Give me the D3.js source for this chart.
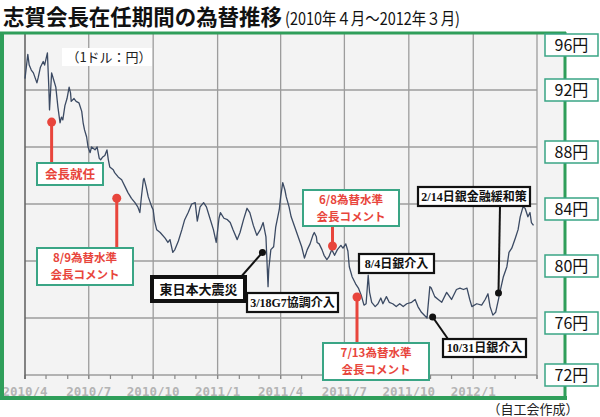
<!DOCTYPE html>
<html><head><meta charset="utf-8">
<script src="https://cdn.jsdelivr.net/npm/d3@7"></script>
<style>body{margin:0;background:#fff}svg{display:block}</style>
</head><body>
<svg id="c" width="600" height="417"></svg>
<script>
// ---- data ----
const dates = ["2010-04-01","2010-04-05","2010-04-07","2010-04-10","2010-04-13","2010-04-18","2010-04-20","2010-04-23","2010-04-27","2010-04-29",
"2010-05-03","2010-05-05","2010-05-06","2010-05-09","2010-05-12","2010-05-15","2010-05-18","2010-05-21","2010-05-23","2010-05-25","2010-05-28","2010-05-31",
"2010-06-03","2010-06-05","2010-06-06","2010-06-10","2010-06-13","2010-06-17","2010-06-21","2010-06-23","2010-06-25","2010-06-28","2010-06-30",
"2010-07-03","2010-07-05","2010-07-10","2010-07-13","2010-07-16","2010-07-18","2010-07-21","2010-07-24","2010-07-27","2010-07-29","2010-07-31",
"2010-08-05","2010-08-07","2010-08-12","2010-08-17","2010-08-22","2010-08-26","2010-08-31",
"2010-09-05","2010-09-09","2010-09-12","2010-09-14","2010-09-17","2010-09-18","2010-09-21","2010-09-24","2010-09-29",
"2010-10-01","2010-10-03","2010-10-06","2010-10-11","2010-10-18","2010-10-22","2010-10-25","2010-10-29",
"2010-11-01","2010-11-06","2010-11-11","2010-11-15","2010-11-20","2010-11-25","2010-11-30",
"2010-12-03","2010-12-07","2010-12-12","2010-12-16","2010-12-21","2010-12-26","2010-12-30",
"2011-01-03","2011-01-05","2011-01-10","2011-01-15","2011-01-19","2011-01-23","2011-01-29",
"2011-02-02","2011-02-07","2011-02-12","2011-02-16","2011-02-21","2011-02-26",
"2011-03-03","2011-03-07","2011-03-11","2011-03-14","2011-03-15","2011-03-18","2011-03-22","2011-03-25","2011-03-30",
"2011-04-01","2011-04-04","2011-04-07","2011-04-09","2011-04-13","2011-04-16","2011-04-21","2011-04-26",
"2011-05-01","2011-05-05","2011-05-09","2011-05-13","2011-05-17","2011-05-19","2011-05-22","2011-05-23","2011-05-26","2011-05-30",
"2011-06-02","2011-06-06","2011-06-09","2011-06-13","2011-06-17","2011-06-21","2011-06-26","2011-06-29",
"2011-07-03","2011-07-06","2011-07-08","2011-07-12","2011-07-17","2011-07-21","2011-07-25","2011-07-29",
"2011-08-01","2011-08-04","2011-08-06","2011-08-09","2011-08-14","2011-08-18","2011-08-22","2011-08-25","2011-08-30",
"2011-09-03","2011-09-08","2011-09-13","2011-09-18","2011-09-23","2011-09-28",
"2011-10-05","2011-10-10","2011-10-14","2011-10-19","2011-10-27","2011-10-31",
"2011-11-02","2011-11-07","2011-11-12","2011-11-17","2011-11-24",
"2011-12-01","2011-12-08","2011-12-13","2011-12-18","2011-12-23","2011-12-27","2011-12-30",
"2012-01-06","2012-01-13","2012-01-18","2012-01-22","2012-01-25","2012-01-29",
"2012-02-02","2012-02-06","2012-02-08","2012-02-13","2012-02-18","2012-02-21","2012-02-25",
"2012-03-01","2012-03-05","2012-03-08","2012-03-12","2012-03-15","2012-03-19","2012-03-22","2012-03-24","2012-03-27"];
const rates = [92.8,94.5,93.75,93.4,93.2,92.5,92.9,93.6,94.0,93.75,
94.6,92.2,90.6,93.2,92.7,92.2,90.8,89.7,90.1,89.9,90.9,91.4,
92.2,91.8,91.2,91.4,91.2,91.1,90.5,89.7,89.2,88.7,88.0,
87.6,88.0,87.8,88.0,87.2,87.1,87.3,87.4,87.8,87.1,86.6,
86.4,86.2,85.9,85.7,85.2,84.8,84.4,
84.1,83.8,83.4,84.4,85.7,85.8,85.2,84.5,83.8,
83.6,82.8,82.2,82.0,81.6,81.3,81.5,80.6,
80.8,81.4,82.2,82.9,83.4,84.0,84.1,
82.8,83.8,84.1,83.8,83.0,82.2,81.3,
83.0,83.4,83.0,82.9,82.7,82.2,81.5,
82.0,82.9,83.7,83.4,82.5,81.8,
82.2,82.7,81.7,78.2,79.4,80.8,81.0,82.4,83.6,
84.5,85.5,85.0,84.5,83.8,83.1,82.4,81.7,
81.0,80.2,80.8,81.2,81.8,82.0,81.7,81.3,81.2,80.8,
80.4,80.1,80.3,80.8,80.4,80.8,81.1,80.9,
81.2,80.7,79.6,78.9,78.4,78.1,77.6,76.9,
77.0,79.0,77.8,77.1,76.8,77.0,77.4,77.0,77.5,
77.1,77.0,76.8,77.0,76.8,77.0,
77.1,77.3,76.8,76.4,76.0,78.2,
78.1,77.5,77.3,77.1,77.8,
77.3,78.0,78.1,78.0,78.1,77.3,76.8,
77.0,76.9,77.3,77.7,76.8,76.2,
76.4,77.3,77.8,78.9,79.6,80.6,80.9,
81.6,82.2,83.1,83.8,83.7,83.1,83.4,82.7,82.5];
const yTicks = [96,92,88,84,80,76,72];
const xTickDates = ["2010-04-01","2010-07-01","2010-10-01","2011-01-01","2011-04-01","2011-07-01","2011-10-01","2012-01-01","2012-04-01"];
const xTickLabels = ["2010/4","2010/7","2010/10","2011/1","2011/4","2011/7","2011/10","2012/1",""];
const noteTexts = [["会長就任"],["8/9為替水準","会長コメント"],["東日本大震災"],["3/18G7協調介入"],["6/8為替水準","会長コメント"],["8/4日銀介入"],["7/13為替水準","会長コメント"],["10/31日銀介入"],["2/14日銀金融緩和策"]];
const noteKinds = ["red","red","quake","black","red","black","red","black","black"];
const noteAnchorDates = ["2010-05-09","2010-08-10","2011-03-06",null,"2011-06-14",null,"2011-07-19","2011-11-04","2012-02-06"];
const noteAnchorValues = [89.75,84.4,80.6,null,81.05,null,77.47,76.07,77.75];

// ---- layout ----
const P = d3.timeParse("%Y-%m-%d");
const svg = d3.select("#c");
const x = d3.scaleTime().domain([P("2010-04-01"), P("2012-04-01")]).range([25, 537]);
const y = d3.scaleLinear().domain([72, 96]).range([375, 33]);
const GREEN = "#2f9e5a", TEAL = "#3aa585", RED = "#e8453c";
const JP = "'Noto Sans CJK JP','Noto Sans',sans-serif";

// title
svg.append("text").attr("x", 3).attr("y", 25).attr("font-family", JP).attr("font-weight", 700).attr("fill", "#111")
  .attr("font-size", 21.5).attr("textLength", 279).attr("lengthAdjust", "spacingAndGlyphs").text("志賀会長在任期間の為替推移");
svg.append("text").attr("x", 285).attr("y", 25).attr("font-family", JP).attr("font-size", 17).attr("fill", "#111")
  .attr("textLength", 175).attr("lengthAdjust", "spacingAndGlyphs").text("(2010年４月～2012年３月)");

// frame background
svg.append("rect").attr("x", 4).attr("y", 33).attr("width", 561).attr("height", 365).attr("fill", "#f3f3f3");

// gridlines
svg.append("g").selectAll("line").data(yTicks.filter(v => v !== 96)).join("line")
  .attr("x1", 25).attr("x2", 537).attr("y1", d => y(d)).attr("y2", d => y(d))
  .attr("stroke", "#9c9c9c").attr("stroke-width", 1.3);
svg.append("g").selectAll("line").data(xTickDates.slice(1)).join("line")
  .attr("x1", d => x(P(d))).attr("x2", d => x(P(d))).attr("y1", 33).attr("y2", 379)
  .attr("stroke", "#9c9c9c").attr("stroke-width", 1.3);
// monthly minor ticks
svg.append("g").selectAll("line").data(d3.timeMonth.range(P("2010-04-01"), P("2012-04-02"))).join("line")
  .attr("x1", d => x(d)).attr("x2", d => x(d)).attr("y1", 375).attr("y2", 379)
  .attr("stroke", "#888").attr("stroke-width", 1.2);
// left axis
svg.append("line").attr("x1", 25).attr("x2", 25).attr("y1", 33).attr("y2", 379).attr("stroke", "#666").attr("stroke-width", 1.6);

// x labels
svg.append("g").selectAll("text").data(xTickDates.map((d, i) => [d, xTickLabels[i]])).join("text")
  .attr("x", d => x(P(d[0]))).attr("y", 396).attr("text-anchor", "middle")
  .attr("font-family", "'DejaVu Sans Mono',monospace").attr("font-weight", 700).attr("font-size", 12.5)
  .attr("fill", "#b4b4b4").text(d => d[1]);

// unit label
svg.append("rect").attr("x", 62).attr("y", 48).attr("width", 90).attr("height", 18).attr("fill", "#fff");
svg.append("text").attr("x", 109).attr("y", 61.5).attr("text-anchor", "middle").attr("font-family", JP)
  .attr("font-size", 13).attr("fill", "#222").text("（1ドル：円）");

// line
const series = dates.map((d, i) => ({ d: P(d), v: rates[i] }));
svg.append("path").datum(series)
  .attr("d", d3.line().x(d => x(d.d)).y(d => y(d.v)).curve(d3.curveLinear))
  .attr("fill", "none").attr("stroke", "#3b4a63").attr("stroke-width", 1.3).attr("stroke-linejoin", "round");

// green frame
svg.append("line").attr("x1", 0).attr("x2", 566).attr("y1", 33).attr("y2", 33).attr("stroke", GREEN).attr("stroke-width", 3);
svg.append("line").attr("x1", 0).attr("x2", 567).attr("y1", 398).attr("y2", 398).attr("stroke", GREEN).attr("stroke-width", 4);
svg.append("line").attr("x1", 2).attr("x2", 2).attr("y1", 32).attr("y2", 400).attr("stroke", GREEN).attr("stroke-width", 4);
svg.append("line").attr("x1", 565).attr("x2", 565).attr("y1", 32).attr("y2", 400).attr("stroke", GREEN).attr("stroke-width", 3);

// right y labels
const yl = svg.append("g").selectAll("g").data(yTicks).join("g")
  .attr("transform", d => `translate(545,${Math.max(45, y(d) + (d === 72 || d === 92 ? 0 : 5))})`);
yl.append("rect").attr("x", 0).attr("y", -11).attr("width", 53).attr("height", 22)
  .attr("fill", "#fff").attr("stroke", TEAL).attr("stroke-width", 1.5);
yl.append("text").attr("x", 26.5).attr("y", 6).attr("text-anchor", "middle").attr("font-family", JP)
  .attr("font-size", 16).attr("fill", "#111").text(d => d + "円");

// annotations: box geometry [x, y, w, h]
const boxes = [[37,163,66,22],[37,248,96,37],[152,277,93,24],[247,293,91,19],[303,190,96,36],[359,254,75,19],[323,343,106,37],[443,339,83,18],[418,187,112,19]];
const leaders = [[70,163],[117,248],[240,278],[null,null],[345,226],[null,null],[358,343],[448,339],[500,206]];
const ag = svg.append("g");
noteTexts.forEach((lines, i) => {
  const k = noteKinds[i];
  const [bx, by, bw, bh] = boxes[i];
  const col = (k === "red") ? RED : "#111";
  if (noteAnchorDates[i]) {
    const ax = x(P(noteAnchorDates[i])), ay = y(noteAnchorValues[i]);
    const [lx, ly] = leaders[i];
    ag.append("line").attr("x1", k === "red" ? ax : lx).attr("y1", ly).attr("x2", ax).attr("y2", ay)
      .attr("stroke", col).attr("stroke-width", k === "red" ? 3 : 2);
    ag.append("circle").attr("cx", ax).attr("cy", ay).attr("r", k === "red" ? 4.5 : 3.5).attr("fill", col);
  }
  ag.append("rect").attr("x", bx).attr("y", by).attr("width", bw).attr("height", bh).attr("fill", "#fff")
    .attr("stroke", k === "red" ? TEAL : "#111").attr("stroke-width", k === "quake" ? 4 : (k === "red" ? 2 : 2.2));
  const multi = lines.length > 1;
  const fs = k === "quake" ? 13 : (k === "red" ? (multi ? 11.5 : 12.5) : 12);
  const fam = k === "black" ? "'Liberation Serif','Noto Sans CJK JP',serif" : JP;
  const gap = 17;
  const txt = ag.append("text").attr("text-anchor", "middle")
    .attr("font-family", fam).attr("font-weight", 700).attr("font-size", fs).attr("fill", col);
  lines.forEach((s, j) => {
    const cy = by + bh / 2 + (j - (lines.length - 1) / 2) * gap;
    txt.append("tspan").attr("x", bx + bw / 2).attr("y", cy).attr("dy", "0.36em").text(s);
  });
});

// source
svg.append("text").attr("x", 533).attr("y", 414).attr("text-anchor", "middle").attr("font-family", JP)
  .attr("font-size", 13).attr("fill", "#222").text("（自工会作成）");
</script>
</body></html>
